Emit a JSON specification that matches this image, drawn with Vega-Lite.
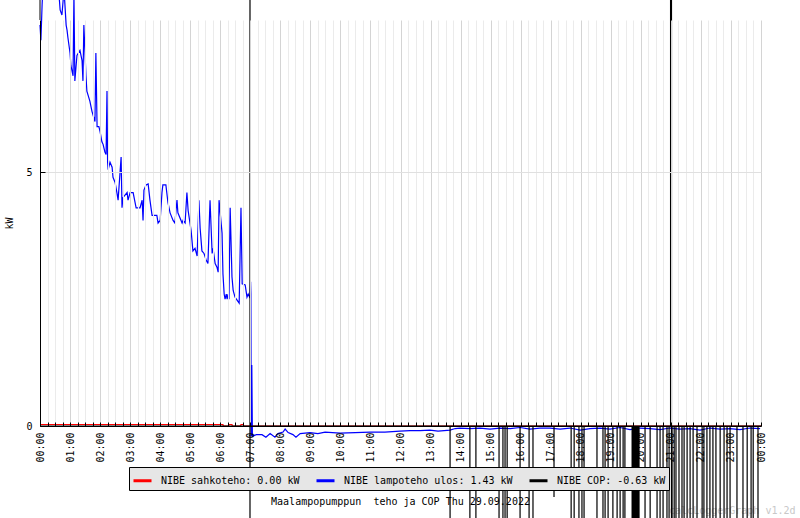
{
  "$schema": "https://vega.github.io/schema/vega-lite/v6.json",
  "width": 721,
  "height": 406,
  "autosize": {"type": "none"},
  "padding": {"left": 40, "top": 20, "right": 39, "bottom": 92},
  "background": "#ffffff",
  "config": {"font": "DejaVu Sans Mono", "view": {"stroke": null}},
  "layer": [
    {
      "data": {"values": [
        {"t":0,"v":0.03,"s":"e"},{"t":6.09,"v":0.03,"s":"e"},{"t":6.1,"v":0,"s":"e"},{"t":6.28,"v":0,"s":"e"},{"t":6.29,"v":0.03,"s":"e"},{"t":6.39,"v":0.03,"s":"e"},{"t":6.4,"v":0,"s":"e"},{"t":6.68,"v":0,"s":"e"},{"t":6.69,"v":0.03,"s":"e"},{"t":6.77,"v":0.03,"s":"e"},{"t":6.78,"v":0,"s":"e"},{"t":24,"v":0,"s":"e"},
        {"t":0,"v":7.9,"s":"l"},{"t":0.03,"v":7.6,"s":"l"},{"t":0.07,"v":8.3,"s":"l"},{"t":0.1,"v":8.7,"s":"l"},{"t":0.3,"v":8.8,"s":"l"},{"t":0.5,"v":8.7,"s":"l"},{"t":0.62,"v":8.6,"s":"l"},{"t":0.67,"v":8.2,"s":"l"},{"t":0.73,"v":8.1,"s":"l"},{"t":0.8,"v":8.6,"s":"l"},{"t":0.87,"v":7.9,"s":"l"},{"t":0.9,"v":7.8,"s":"l"},{"t":0.93,"v":7.65,"s":"l"},{"t":1.0,"v":7.35,"s":"l"},{"t":1.03,"v":7.1,"s":"l"},{"t":1.1,"v":6.9,"s":"l"},{"t":1.13,"v":8.5,"s":"l"},{"t":1.16,"v":6.8,"s":"l"},{"t":1.23,"v":7.3,"s":"l"},{"t":1.33,"v":7.4,"s":"l"},{"t":1.4,"v":7.2,"s":"l"},{"t":1.43,"v":6.8,"s":"l"},{"t":1.46,"v":7.9,"s":"l"},{"t":1.53,"v":6.9,"s":"l"},{"t":1.56,"v":6.6,"s":"l"},{"t":1.66,"v":6.4,"s":"l"},{"t":1.73,"v":6.2,"s":"l"},{"t":1.83,"v":6.0,"s":"l"},{"t":1.86,"v":7.35,"s":"l"},{"t":1.9,"v":5.9,"s":"l"},{"t":1.96,"v":5.9,"s":"l"},{"t":2.0,"v":5.8,"s":"l"},{"t":2.06,"v":5.6,"s":"l"},{"t":2.1,"v":5.55,"s":"l"},{"t":2.16,"v":5.4,"s":"l"},{"t":2.2,"v":5.35,"s":"l"},{"t":2.23,"v":6.6,"s":"l"},{"t":2.25,"v":5.2,"s":"l"},{"t":2.27,"v":5.05,"s":"l"},{"t":2.33,"v":5.2,"s":"l"},{"t":2.4,"v":5.1,"s":"l"},{"t":2.43,"v":4.9,"s":"l"},{"t":2.5,"v":4.8,"s":"l"},{"t":2.56,"v":4.6,"s":"l"},{"t":2.6,"v":4.45,"s":"l"},{"t":2.7,"v":5.3,"s":"l"},{"t":2.73,"v":4.3,"s":"l"},{"t":2.76,"v":4.5,"s":"l"},{"t":2.9,"v":4.6,"s":"l"},{"t":2.93,"v":4.45,"s":"l"},{"t":3.0,"v":4.6,"s":"l"},{"t":3.1,"v":4.6,"s":"l"},{"t":3.2,"v":4.3,"s":"l"},{"t":3.33,"v":4.3,"s":"l"},{"t":3.4,"v":4.45,"s":"l"},{"t":3.43,"v":4.05,"s":"l"},{"t":3.46,"v":4.65,"s":"l"},{"t":3.53,"v":4.75,"s":"l"},{"t":3.6,"v":4.77,"s":"l"},{"t":3.66,"v":4.45,"s":"l"},{"t":3.73,"v":4.15,"s":"l"},{"t":3.89,"v":4.15,"s":"l"},{"t":3.93,"v":4.0,"s":"l"},{"t":4.0,"v":4.05,"s":"l"},{"t":4.06,"v":4.6,"s":"l"},{"t":4.09,"v":4.75,"s":"l"},{"t":4.19,"v":4.75,"s":"l"},{"t":4.26,"v":4.4,"s":"l"},{"t":4.33,"v":4.2,"s":"l"},{"t":4.43,"v":4.05,"s":"l"},{"t":4.49,"v":4.0,"s":"l"},{"t":4.56,"v":4.45,"s":"l"},{"t":4.59,"v":4.2,"s":"l"},{"t":4.73,"v":4.0,"s":"l"},{"t":4.76,"v":4.05,"s":"l"},{"t":4.83,"v":4.0,"s":"l"},{"t":4.89,"v":4.6,"s":"l"},{"t":4.93,"v":4.25,"s":"l"},{"t":5.03,"v":3.85,"s":"l"},{"t":5.09,"v":3.45,"s":"l"},{"t":5.16,"v":3.5,"s":"l"},{"t":5.23,"v":3.35,"s":"l"},{"t":5.29,"v":4.45,"s":"l"},{"t":5.33,"v":3.9,"s":"l"},{"t":5.39,"v":3.45,"s":"l"},{"t":5.46,"v":3.4,"s":"l"},{"t":5.53,"v":3.27,"s":"l"},{"t":5.59,"v":3.2,"s":"l"},{"t":5.66,"v":4.45,"s":"l"},{"t":5.73,"v":3.4,"s":"l"},{"t":5.76,"v":3.5,"s":"l"},{"t":5.83,"v":3.2,"s":"l"},{"t":5.89,"v":3.13,"s":"l"},{"t":5.93,"v":3.03,"s":"l"},{"t":5.96,"v":4.45,"s":"l"},{"t":6.06,"v":3.8,"s":"l"},{"t":6.09,"v":3.0,"s":"l"},{"t":6.13,"v":2.6,"s":"l"},{"t":6.16,"v":2.5,"s":"l"},{"t":6.2,"v":2.6,"s":"l"},{"t":6.23,"v":2.5,"s":"l"},{"t":6.26,"v":2.6,"s":"l"},{"t":6.29,"v":2.5,"s":"l"},{"t":6.33,"v":4.3,"s":"l"},{"t":6.39,"v":2.94,"s":"l"},{"t":6.43,"v":2.67,"s":"l"},{"t":6.49,"v":2.54,"s":"l"},{"t":6.56,"v":2.48,"s":"l"},{"t":6.63,"v":2.42,"s":"l"},{"t":6.69,"v":4.3,"s":"l"},{"t":6.73,"v":2.8,"s":"l"},{"t":6.83,"v":2.78,"s":"l"},{"t":6.89,"v":2.54,"s":"l"},{"t":6.93,"v":2.6,"s":"l"},{"t":6.99,"v":2.52,"s":"l"},{"t":7.01,"v":2.84,"s":"l"},{"t":7.02,"v":2.6,"s":"l"},{"t":7.03,"v":-0.2,"s":"l"},{"t":7.05,"v":1.2,"s":"l"},{"t":7.07,"v":-0.2,"s":"l"},
        {"t":7.2,"v":-0.17,"s":"l"},{"t":7.39,"v":-0.17,"s":"l"},{"t":7.52,"v":-0.22,"s":"l"},{"t":7.66,"v":-0.15,"s":"l"},{"t":7.82,"v":-0.22,"s":"l"},{"t":7.92,"v":-0.15,"s":"l"},{"t":8.09,"v":-0.12,"s":"l"},{"t":8.16,"v":-0.06,"s":"l"},{"t":8.26,"v":-0.13,"s":"l"},{"t":8.42,"v":-0.17,"s":"l"},{"t":8.52,"v":-0.22,"s":"l"},{"t":8.66,"v":-0.15,"s":"l"},{"t":8.99,"v":-0.13,"s":"l"},{"t":9.25,"v":-0.15,"s":"l"},{"t":9.49,"v":-0.12,"s":"l"},{"t":9.99,"v":-0.14,"s":"l"},{"t":10.49,"v":-0.13,"s":"l"},{"t":10.99,"v":-0.12,"s":"l"},{"t":11.48,"v":-0.12,"s":"l"},{"t":11.98,"v":-0.1,"s":"l"},{"t":12.32,"v":-0.09,"s":"l"},{"t":12.65,"v":-0.09,"s":"l"},{"t":12.98,"v":-0.08,"s":"l"},{"t":13.25,"v":-0.1,"s":"l"},{"t":13.65,"v":-0.08,"s":"l"},{"t":13.82,"v":-0.05,"s":"l"},{"t":13.98,"v":-0.04,"s":"l"},{"t":14.31,"v":-0.05,"s":"l"},{"t":14.65,"v":-0.04,"s":"l"},{"t":14.98,"v":-0.06,"s":"l"},{"t":15.31,"v":-0.04,"s":"l"},{"t":15.65,"v":-0.05,"s":"l"},{"t":15.98,"v":-0.03,"s":"l"},{"t":16.31,"v":-0.06,"s":"l"},{"t":16.64,"v":-0.04,"s":"l"},{"t":16.98,"v":-0.04,"s":"l"},{"t":17.31,"v":-0.06,"s":"l"},{"t":17.64,"v":-0.04,"s":"l"},{"t":17.98,"v":-0.08,"s":"l"},{"t":18.31,"v":-0.05,"s":"l"},{"t":18.64,"v":-0.04,"s":"l"},{"t":18.97,"v":-0.06,"s":"l"},{"t":19.31,"v":-0.03,"s":"l"},{"t":19.64,"v":-0.07,"s":"l"},{"t":19.97,"v":-0.04,"s":"l"},{"t":20.31,"v":-0.05,"s":"l"},{"t":20.64,"v":-0.07,"s":"l"},{"t":20.97,"v":-0.04,"s":"l"},{"t":21.3,"v":-0.06,"s":"l"},{"t":21.64,"v":-0.05,"s":"l"},{"t":21.97,"v":-0.08,"s":"l"},{"t":22.3,"v":-0.04,"s":"l"},{"t":22.64,"v":-0.06,"s":"l"},{"t":22.97,"v":-0.05,"s":"l"},{"t":23.3,"v":-0.07,"s":"l"},{"t":23.64,"v":-0.04,"s":"l"},{"t":23.97,"v":-0.05,"s":"l"},
        {"t":0,"v":0,"s":"c"},{"t":6.99,"v":0,"s":"c"},{"t":6.99,"v":10,"s":"c"},{"t":6.99,"v":-4,"s":"c"},{"t":6.99,"v":0,"s":"c"},
        {"t":13.65,"v":0,"s":"c"},{"t":13.65,"v":-4,"s":"c"},{"t":13.65,"v":0,"s":"c"},
        {"t":14.31,"v":0,"s":"c"},{"t":14.31,"v":-4,"s":"c"},{"t":14.31,"v":0,"s":"c"},
        {"t":14.51,"v":0,"s":"c"},{"t":14.51,"v":-4,"s":"c"},{"t":14.51,"v":0,"s":"c"},
        {"t":15.28,"v":0,"s":"c"},{"t":15.28,"v":-4,"s":"c"},{"t":15.28,"v":0,"s":"c"},
        {"t":15.41,"v":0,"s":"c"},{"t":15.41,"v":-4,"s":"c"},{"t":15.41,"v":0,"s":"c"},
        {"t":15.48,"v":0,"s":"c"},{"t":15.48,"v":-4,"s":"c"},{"t":15.48,"v":0,"s":"c"},
        {"t":15.55,"v":0,"s":"c"},{"t":15.55,"v":-4,"s":"c"},{"t":15.55,"v":0,"s":"c"},
        {"t":15.98,"v":0,"s":"c"},{"t":15.98,"v":-4,"s":"c"},{"t":15.98,"v":0,"s":"c"},
        {"t":16.28,"v":0,"s":"c"},{"t":16.28,"v":-4,"s":"c"},{"t":16.28,"v":0,"s":"c"},
        {"t":16.41,"v":0,"s":"c"},{"t":16.41,"v":-4,"s":"c"},{"t":16.41,"v":0,"s":"c"},
        {"t":17.11,"v":0,"s":"c"},{"t":17.11,"v":-1.4,"s":"c"},{"t":17.11,"v":0,"s":"c"},
        {"t":17.68,"v":0,"s":"c"},{"t":17.68,"v":-4,"s":"c"},{"t":17.68,"v":0,"s":"c"},
        {"t":17.78,"v":0,"s":"c"},{"t":17.78,"v":-4,"s":"c"},{"t":17.78,"v":0,"s":"c"},
        {"t":17.94,"v":0,"s":"c"},{"t":17.94,"v":-4,"s":"c"},{"t":17.94,"v":0,"s":"c"},
        {"t":18.04,"v":0,"s":"c"},{"t":18.04,"v":-4,"s":"c"},{"t":18.04,"v":0,"s":"c"},
        {"t":18.11,"v":0,"s":"c"},{"t":18.11,"v":-4,"s":"c"},{"t":18.11,"v":0,"s":"c"},
        {"t":18.54,"v":0,"s":"c"},{"t":18.54,"v":-4,"s":"c"},{"t":18.54,"v":0,"s":"c"},
        {"t":18.74,"v":0,"s":"c"},{"t":18.74,"v":-4,"s":"c"},{"t":18.74,"v":0,"s":"c"},
        {"t":18.81,"v":0,"s":"c"},{"t":18.81,"v":-4,"s":"c"},{"t":18.81,"v":0,"s":"c"},
        {"t":18.91,"v":0,"s":"c"},{"t":18.91,"v":-4,"s":"c"},{"t":18.91,"v":0,"s":"c"},
        {"t":19.07,"v":0,"s":"c"},{"t":19.07,"v":-4,"s":"c"},{"t":19.07,"v":0,"s":"c"},
        {"t":19.21,"v":0,"s":"c"},{"t":19.21,"v":-4,"s":"c"},{"t":19.21,"v":0,"s":"c"},
        {"t":19.31,"v":0,"s":"c"},{"t":19.31,"v":-4,"s":"c"},{"t":19.31,"v":0,"s":"c"},
        {"t":19.41,"v":0,"s":"c"},{"t":19.41,"v":-4,"s":"c"},{"t":19.41,"v":0,"s":"c"},
        {"t":19.47,"v":0,"s":"c"},{"t":19.47,"v":-4,"s":"c"},{"t":19.47,"v":0,"s":"c"},
        {"t":19.71,"v":0,"s":"c"},{"t":19.71,"v":-4,"s":"c"},{"t":19.74,"v":-4,"s":"c"},{"t":19.74,"v":0,"s":"c"},
        {"t":19.77,"v":0,"s":"c"},{"t":19.77,"v":-4,"s":"c"},{"t":19.81,"v":-4,"s":"c"},{"t":19.81,"v":0,"s":"c"},
        {"t":19.84,"v":0,"s":"c"},{"t":19.84,"v":-4,"s":"c"},{"t":19.87,"v":-4,"s":"c"},{"t":19.87,"v":0,"s":"c"},
        {"t":19.91,"v":0,"s":"c"},{"t":19.91,"v":-4,"s":"c"},{"t":19.94,"v":-4,"s":"c"},{"t":19.94,"v":0,"s":"c"},
        {"t":20.14,"v":0,"s":"c"},{"t":20.14,"v":-4,"s":"c"},{"t":20.14,"v":0,"s":"c"},
        {"t":20.31,"v":0,"s":"c"},{"t":20.31,"v":-4,"s":"c"},{"t":20.31,"v":0,"s":"c"},
        {"t":20.54,"v":0,"s":"c"},{"t":20.54,"v":-4,"s":"c"},{"t":20.54,"v":0,"s":"c"},
        {"t":20.64,"v":0,"s":"c"},{"t":20.64,"v":-4,"s":"c"},{"t":20.64,"v":0,"s":"c"},
        {"t":20.74,"v":0,"s":"c"},{"t":20.74,"v":-4,"s":"c"},{"t":20.74,"v":0,"s":"c"},
        {"t":20.87,"v":0,"s":"c"},{"t":20.87,"v":-4,"s":"c"},{"t":20.87,"v":0,"s":"c"},
        {"t":20.94,"v":0,"s":"c"},{"t":20.94,"v":-4,"s":"c"},{"t":20.94,"v":0,"s":"c"},
        {"t":20.99,"v":0,"s":"c"},{"t":20.99,"v":10,"s":"c"},{"t":21.02,"v":10,"s":"c"},{"t":21.02,"v":-4,"s":"c"},{"t":21.04,"v":-4,"s":"c"},{"t":21.04,"v":0,"s":"c"},
        {"t":21.11,"v":0,"s":"c"},{"t":21.11,"v":-4,"s":"c"},{"t":21.11,"v":0,"s":"c"},
        {"t":21.17,"v":0,"s":"c"},{"t":21.17,"v":-4,"s":"c"},{"t":21.17,"v":0,"s":"c"},
        {"t":21.27,"v":0,"s":"c"},{"t":21.27,"v":-4,"s":"c"},{"t":21.27,"v":0,"s":"c"},
        {"t":21.37,"v":0,"s":"c"},{"t":21.37,"v":-4,"s":"c"},{"t":21.37,"v":0,"s":"c"},
        {"t":21.44,"v":0,"s":"c"},{"t":21.44,"v":-4,"s":"c"},{"t":21.44,"v":0,"s":"c"},
        {"t":21.54,"v":0,"s":"c"},{"t":21.54,"v":-4,"s":"c"},{"t":21.54,"v":0,"s":"c"},
        {"t":21.64,"v":0,"s":"c"},{"t":21.64,"v":-4,"s":"c"},{"t":21.64,"v":0,"s":"c"},
        {"t":21.74,"v":0,"s":"c"},{"t":21.74,"v":-4,"s":"c"},{"t":21.74,"v":0,"s":"c"},
        {"t":21.87,"v":0,"s":"c"},{"t":21.87,"v":-4,"s":"c"},{"t":21.87,"v":0,"s":"c"},
        {"t":22.04,"v":0,"s":"c"},{"t":22.04,"v":-4,"s":"c"},{"t":22.04,"v":0,"s":"c"},
        {"t":22.1,"v":0,"s":"c"},{"t":22.1,"v":-4,"s":"c"},{"t":22.1,"v":0,"s":"c"},
        {"t":22.2,"v":0,"s":"c"},{"t":22.2,"v":-4,"s":"c"},{"t":22.2,"v":0,"s":"c"},
        {"t":22.3,"v":0,"s":"c"},{"t":22.3,"v":-4,"s":"c"},{"t":22.3,"v":0,"s":"c"},
        {"t":22.4,"v":0,"s":"c"},{"t":22.4,"v":-4,"s":"c"},{"t":22.4,"v":0,"s":"c"},
        {"t":22.5,"v":0,"s":"c"},{"t":22.5,"v":-4,"s":"c"},{"t":22.5,"v":0,"s":"c"},
        {"t":22.64,"v":0,"s":"c"},{"t":22.64,"v":-4,"s":"c"},{"t":22.64,"v":0,"s":"c"},
        {"t":22.77,"v":0,"s":"c"},{"t":22.77,"v":-4,"s":"c"},{"t":22.77,"v":0,"s":"c"},
        {"t":22.87,"v":0,"s":"c"},{"t":22.87,"v":-4,"s":"c"},{"t":22.87,"v":0,"s":"c"},
        {"t":22.97,"v":0,"s":"c"},{"t":22.97,"v":-4,"s":"c"},{"t":22.97,"v":0,"s":"c"},
        {"t":23.2,"v":0,"s":"c"},{"t":23.2,"v":-4,"s":"c"},{"t":23.2,"v":0,"s":"c"},
        {"t":23.4,"v":0,"s":"c"},{"t":23.4,"v":-4,"s":"c"},{"t":23.4,"v":0,"s":"c"},
        {"t":23.54,"v":0,"s":"c"},{"t":23.54,"v":-4,"s":"c"},{"t":23.54,"v":0,"s":"c"},
        {"t":23.67,"v":0,"s":"c"},{"t":23.67,"v":-4,"s":"c"},{"t":23.67,"v":0,"s":"c"},
        {"t":23.74,"v":0,"s":"c"},{"t":23.74,"v":-4,"s":"c"},{"t":23.74,"v":0,"s":"c"},
        {"t":23.9,"v":0,"s":"c"},{"t":23.9,"v":-4,"s":"c"},{"t":23.9,"v":0,"s":"c"},
        {"t":24,"v":0,"s":"c"}
      ]},
      "mark": {"type": "line", "clip": false, "strokeWidth": 1.2},
      "encoding": {
        "x": {
          "field": "t", "type": "quantitative",
          "scale": {"domain": [0, 24], "nice": false, "zero": false},
          "axis": {
            "orient": "bottom",
            "values": [0,0.25,0.5,0.75,1,1.25,1.5,1.75,2,2.25,2.5,2.75,3,3.25,3.5,3.75,4,4.25,4.5,4.75,5,5.25,5.5,5.75,6,6.25,6.5,6.75,7,7.25,7.5,7.75,8,8.25,8.5,8.75,9,9.25,9.5,9.75,10,10.25,10.5,10.75,11,11.25,11.5,11.75,12,12.25,12.5,12.75,13,13.25,13.5,13.75,14,14.25,14.5,14.75,15,15.25,15.5,15.75,16,16.25,16.5,16.75,17,17.25,17.5,17.75,18,18.25,18.5,18.75,19,19.25,19.5,19.75,20,20.25,20.5,20.75,21,21.25,21.5,21.75,22,22.25,22.5,22.75,23,23.25,23.5,23.75,24],
            "labelExpr": "datum.value % 1 ? '' : ((datum.value % 24) < 10 ? '0' : '') + (datum.value % 24) + ':00'",
            "labelAngle": 270, "labelAlign": "right", "labelBaseline": "middle",
            "labelPadding": 10, "labelFont": "DejaVu Sans Mono", "labelFontSize": 10, "labelColor": "#000000",
            "labelOverlap": false, "labelFlush": false, "labelBound": false,
            "tickSize": -4, "tickColor": "#000000", "domainColor": "#000000",
            "grid": true,
            "gridColor": {"condition": {"test": "datum.value % 1 === 0", "value": "#d4d4d4"}, "value": "#ebebeb"},
            "title": "Maalampopumppun \u00a0teho ja COP Thu 29.09.2022",
            "titleX": 360, "titleY": 75, "titleAlign": "center", "titleAnchor": null, "titleBaseline": "middle",
            "titleFont": "DejaVu Sans Mono", "titleFontSize": 10, "titleFontWeight": "normal", "titleColor": "#000000",
            "zindex": 1
          }
        },
        "y": {
          "field": "v", "type": "quantitative",
          "scale": {"domain": [0, 8], "nice": false, "zero": false},
          "axis": {
            "values": [0, 5], "format": "d",
            "tickSize": -5, "labelPadding": 13, "tickColor": "#000000", "domainColor": "#000000",
            "labelFont": "DejaVu Sans Mono", "labelFontSize": 10, "labelColor": "#000000",
            "grid": true, "gridColor": "#e0e0e0",
            "title": "kW", "titleX": -31, "titleY": 203, "titleAngle": 270, "titleAlign": "center", "titleBaseline": "middle",
            "titleFont": "DejaVu Sans Mono", "titleFontSize": 10, "titleFontWeight": "normal", "titleColor": "#000000",
            "zindex": 1
          }
        },
        "color": {
          "field": "s", "type": "nominal",
          "scale": {"domain": ["e", "l", "c"], "range": ["#ff0000", "#0000ff", "#000000"]},
          "legend": {
            "orient": "none", "legendX": 89, "legendY": 447, "direction": "horizontal", "title": null,
            "fillColor": "#e6e6e6", "strokeColor": "#000000", "padding": 3,
            "symbolType": "stroke", "symbolSize": 324, "symbolStrokeWidth": 3,
            "labelFont": "DejaVu Sans Mono", "labelFontSize": 10, "labelColor": "#000000",
            "labelOffset": 8, "columnPadding": 10, "labelLimit": 0,
            "labelExpr": "datum.value === 'e' ? 'NIBE sahkoteho: 0.00 kW' : datum.value === 'l' ? 'NIBE lampoteho ulos: 1.43 kW' : 'NIBE COP: -0.63 kW'"
          }
        },
        "order": {"value": null}
      }
    },
    {
      "data": {"values": [{}]},
      "mark": {"type": "rule", "clip": false, "color": "#000000", "strokeWidth": 1},
      "encoding": {
        "x": {
          "datum": 0, "type": "quantitative",
          "axis": {
            "orient": "bottom", "domain": false, "ticks": false, "labels": false, "grid": false,
            "title": "calcLoggerGraph v1.2d", "titleX": 755, "titleY": 84, "titleAlign": "right", "titleAnchor": null,
            "titleBaseline": "middle", "titleFont": "DejaVu Sans Mono", "titleFontSize": 10, "titleFontWeight": "normal",
            "titleColor": "#c8c8c8"
          }
        },
        "y": {"datum": 8, "type": "quantitative"},
        "y2": {"datum": 8.45}
      }
    }
  ],
  "resolve": {"axis": {"x": "independent"}}
}
